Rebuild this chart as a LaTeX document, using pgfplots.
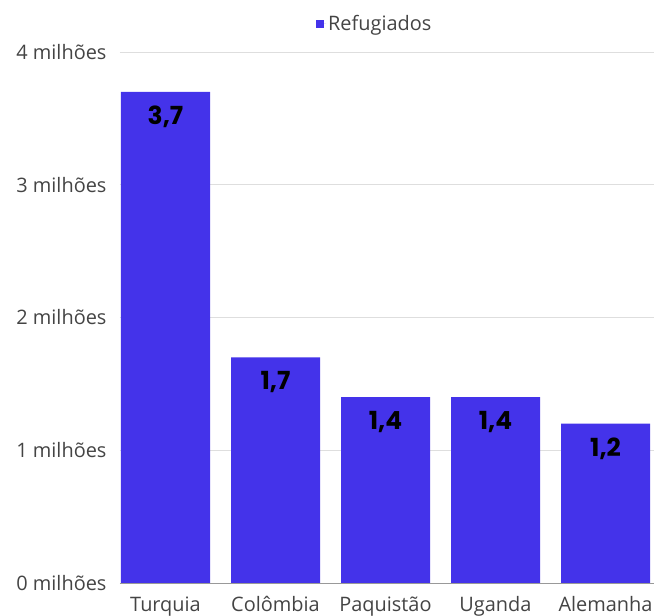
\documentclass[border=0pt]{standalone}
\usepackage{fontspec}
\setmainfont{Open Sans}
\newfontfamily\labelfont{Poppins}
\usepackage{pgfplots}
\pgfplotsset{compat=1.18}
\definecolor{barc}{HTML}{4433EA}
\definecolor{txt}{HTML}{444444}
\begin{document}
\begin{tikzpicture}
\begin{axis}[
  at={(0,0)}, anchor=south west,
  scale only axis, width=534bp, height=531bp,
  xmin=-0.41364, xmax=4.44091, ymin=0, ymax=4,
  axis line style={draw=none},
  ytick={0,1,2,3,4},
  yticklabels={0 milhões,1 milhões,2 milhões,3 milhões,4 milhões},
  xtick={0,1,2,3,4},
  xticklabels={Turquia,Colômbia,Paquistão,Uganda,Alemanha},
  major tick length=0pt,
  ymajorgrids, grid style={draw=black!13, line width=0.8bp},
  tick label style={font=\fontsize{20}{22}\selectfont, text=txt},
  yticklabel style={xshift=-10bp},
  xticklabel style={yshift=-10bp},
  /pgf/number format/assume math mode=true,
  legend style={at={(0.367,1.053)}, anchor=west, draw=none, fill=none, inner sep=0pt,
    font=\fontsize{20}{22}\selectfont, text=txt},
  legend image code/.code={\path (0bp,0bp) -- (10bp,0bp); \fill[barc] (0bp,-4bp) rectangle (8bp,4bp);},
  point meta=explicit symbolic,
  nodes near coords,
  every node near coord/.append style={font=\labelfont\bfseries\fontsize{25}{27}\selectfont, text=black, anchor=center, yshift=-25bp},
  clip=false,
]
\addplot[ybar, bar width=89bp, fill=barc, draw=none] coordinates {
  (0,3.7) [3,7]
  (1,1.7) [1,7]
  (2,1.4) [1,4]
  (3,1.4) [1,4]
  (4,1.2) [1,2]
};
\addlegendentry{Refugiados}
\draw[draw=black!40, line width=0.8bp] (axis cs:-0.41364,0) -- (axis cs:4.44091,0);
\end{axis}
\pgfresetboundingbox
\path[use as bounding box] (-120bp,-33bp) rectangle (534bp,583bp);
\end{tikzpicture}
\end{document}
